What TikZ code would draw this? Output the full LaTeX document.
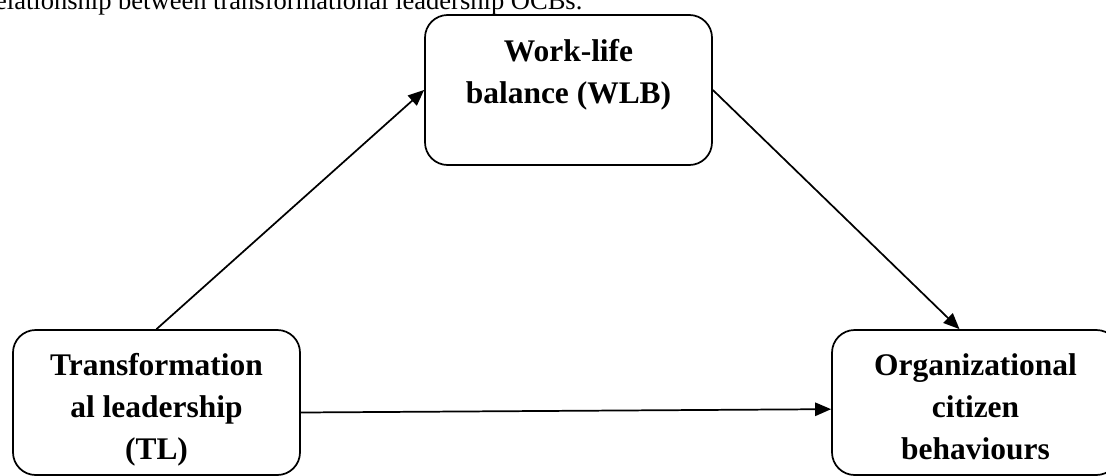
\documentclass[tikz,border=0pt]{standalone}
\usepackage{fontspec}
\setmainfont{Liberation Serif}
\usetikzlibrary{arrows.meta,calc}
\begin{document}
\begin{tikzpicture}[x=0.75pt,y=-0.75pt,
  box/.style={draw,line width=1.3pt,rounded corners=17pt,minimum width=215.25pt,inner sep=0pt},
  boxtext/.style={anchor=base,align=center,inner sep=0pt,font=\fontsize{23.6}{31.5}\selectfont\bfseries},
  arr/.style={-{Triangle[length=12pt,width=10pt]},line width=1.3pt}]
\useasboundingbox (0,0) rectangle (1106,475);
\node[anchor=base west,inner sep=0pt,font=\fontsize{19.9}{24}\selectfont] (caption) at (-14,9)
  {relationship between transformational leadership OCBs.};

% boxes
\node[box,minimum height=112.5pt] (wlb) at (568.5,90) {};
\node[box,minimum height=108.75pt] (tl) at (156.5,402.5) {};
\node[box,minimum height=108.75pt] (ocb) at (975.5,402.5) {};

% texts, anchored on the last line
\node[boxtext] (wlbtext) at ($(wlb.north)+(0,89)$) {Work-life\\balance (WLB)};
\node[boxtext] (tltext) at ($(tl.north)+(0,130)$) {Transformation\\al leadership\\(TL)};
\node[boxtext] (ocbtext) at ($(ocb.north)+(0,130)$) {Organizational\\citizen\\behaviours};

% paths
\draw[arr] (tl.north) -- (wlb.west);
\draw[arr] (wlb.east) -- ([xshift=-12pt]ocb.north);
\draw[arr] ([yshift=-7.5pt]tl.east) -- ([yshift=-5pt]ocb.west);
\end{tikzpicture}
\end{document}
